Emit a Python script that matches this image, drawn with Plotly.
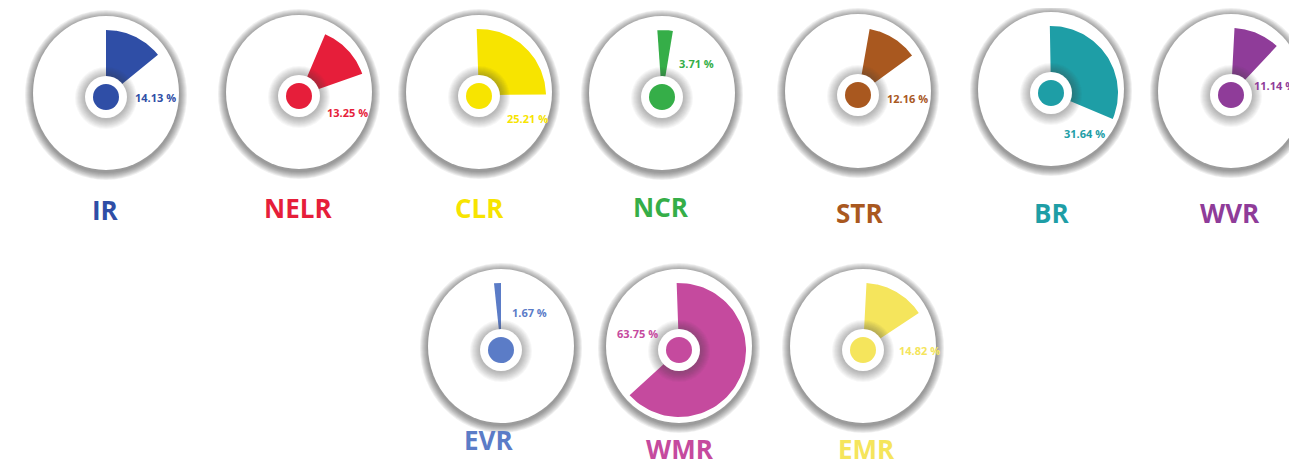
import numpy as np
import plotly.graph_objects as go

# data
regions = ["IR", "NELR", "CLR", "NCR", "STR", "BR", "WVR", "EVR", "WMR", "EMR"]
shares = [14.13, 13.25, 25.21, 3.71, 12.16, 31.64, 11.14, 1.67, 63.75, 14.82]
colors = ["#2f4ea6", "#e61e3a", "#f7e400", "#35ae48", "#a9581f",
          "#1e9ea6", "#8f3c99", "#5b7cc7", "#c54a9e", "#f5e55c"]

# layout (pixel positions of each disc, its name and its percentage)
cx = [106, 299, 479, 662, 858, 1051, 1231, 501, 679, 863]
cy = [97, 96, 96, 97, 95, 93, 95, 350, 350, 350]
rotation = [0, 23, -2, -4, 10, -1, 3, -6, -2, 3]
name_x = [105, 298, 479, 661, 859, 1051, 1230, 488, 680, 866]
name_y = [210, 208, 208, 207, 213, 213, 213, 440, 449, 449]
pct_x = [133, 325, 505, 677, 885, 1062, 1252, 510, 615, 897]
pct_y = [97, 112, 118, 63, 98, 133, 85, 312, 333, 350]

W, H = 1297, 466
OFF = 8  # page body margin
disc_rx, disc_ry = 73, 77
wedge_r, wedge_r0 = 67, 18
ring_r, dot_r = 21, 13

fig = go.Figure()
shapes = []
annotations = []


def ellipse(x, y, rx, ry, fill, layer):
    return dict(type="circle", xref="x", yref="y", x0=x - rx, x1=x + rx,
                y0=y - ry, y1=y + ry, fillcolor=fill, line=dict(width=0), layer=layer)


for i, name in enumerate(regions):
    x, y = cx[i], cy[i]
    # outer disc with grey rim
    for k in range(8, 0, -1):
        shapes.append(ellipse(x, y - 2, disc_rx + k, disc_ry + k, "rgba(50,50,50,0.08)", "below"))
    shapes.append(ellipse(x, y - 4, disc_rx, disc_ry, "white", "below"))

    # wedge, clockwise from top
    a0 = np.radians(rotation[i])
    a1 = a0 + np.radians(shares[i] * 3.6)
    t = np.linspace(a0, a1, 80)
    xs = np.concatenate([x + wedge_r * np.sin(t), x + wedge_r0 * np.sin(t[::-1])])
    ys = np.concatenate([y - wedge_r * np.cos(t), y - wedge_r0 * np.cos(t[::-1])])
    fig.add_trace(go.Scatter(x=xs, y=ys, fill="toself", fillcolor=colors[i], mode="lines",
                             line=dict(width=0), hoverinfo="skip", showlegend=False, name=name))

    # inner ring with shadow and coloured dot
    for k in range(10, 0, -1):
        shapes.append(ellipse(x, y + 1, ring_r + k, ring_r + k, "rgba(60,60,60,0.045)", "above"))
    shapes.append(ellipse(x, y, ring_r, ring_r, "white", "above"))
    shapes.append(ellipse(x, y, dot_r, dot_r, colors[i], "above"))

    annotations.append(dict(x=name_x[i], y=name_y[i], xref="x", yref="y", text=name,
                            showarrow=False, xanchor="center", yanchor="middle",
                            font=dict(family="Open Sans", size=26, color=colors[i], weight="bold")))
    annotations.append(dict(x=pct_x[i], y=pct_y[i], xref="x", yref="y",
                            text=f"{shares[i]:.2f} %", showarrow=False,
                            xanchor="left", yanchor="middle",
                            font=dict(family="Open Sans", size=11, color=colors[i], weight="bold")))

fig.update_layout(
    width=W, height=H,
    margin=dict(l=0, r=0, t=0, b=0),
    paper_bgcolor="white", plot_bgcolor="white",
    xaxis=dict(range=[OFF, W + OFF], visible=False, fixedrange=True),
    yaxis=dict(range=[H + OFF, OFF], visible=False, fixedrange=True),
    shapes=shapes, annotations=annotations,
)
fig.write_html("out.html")
